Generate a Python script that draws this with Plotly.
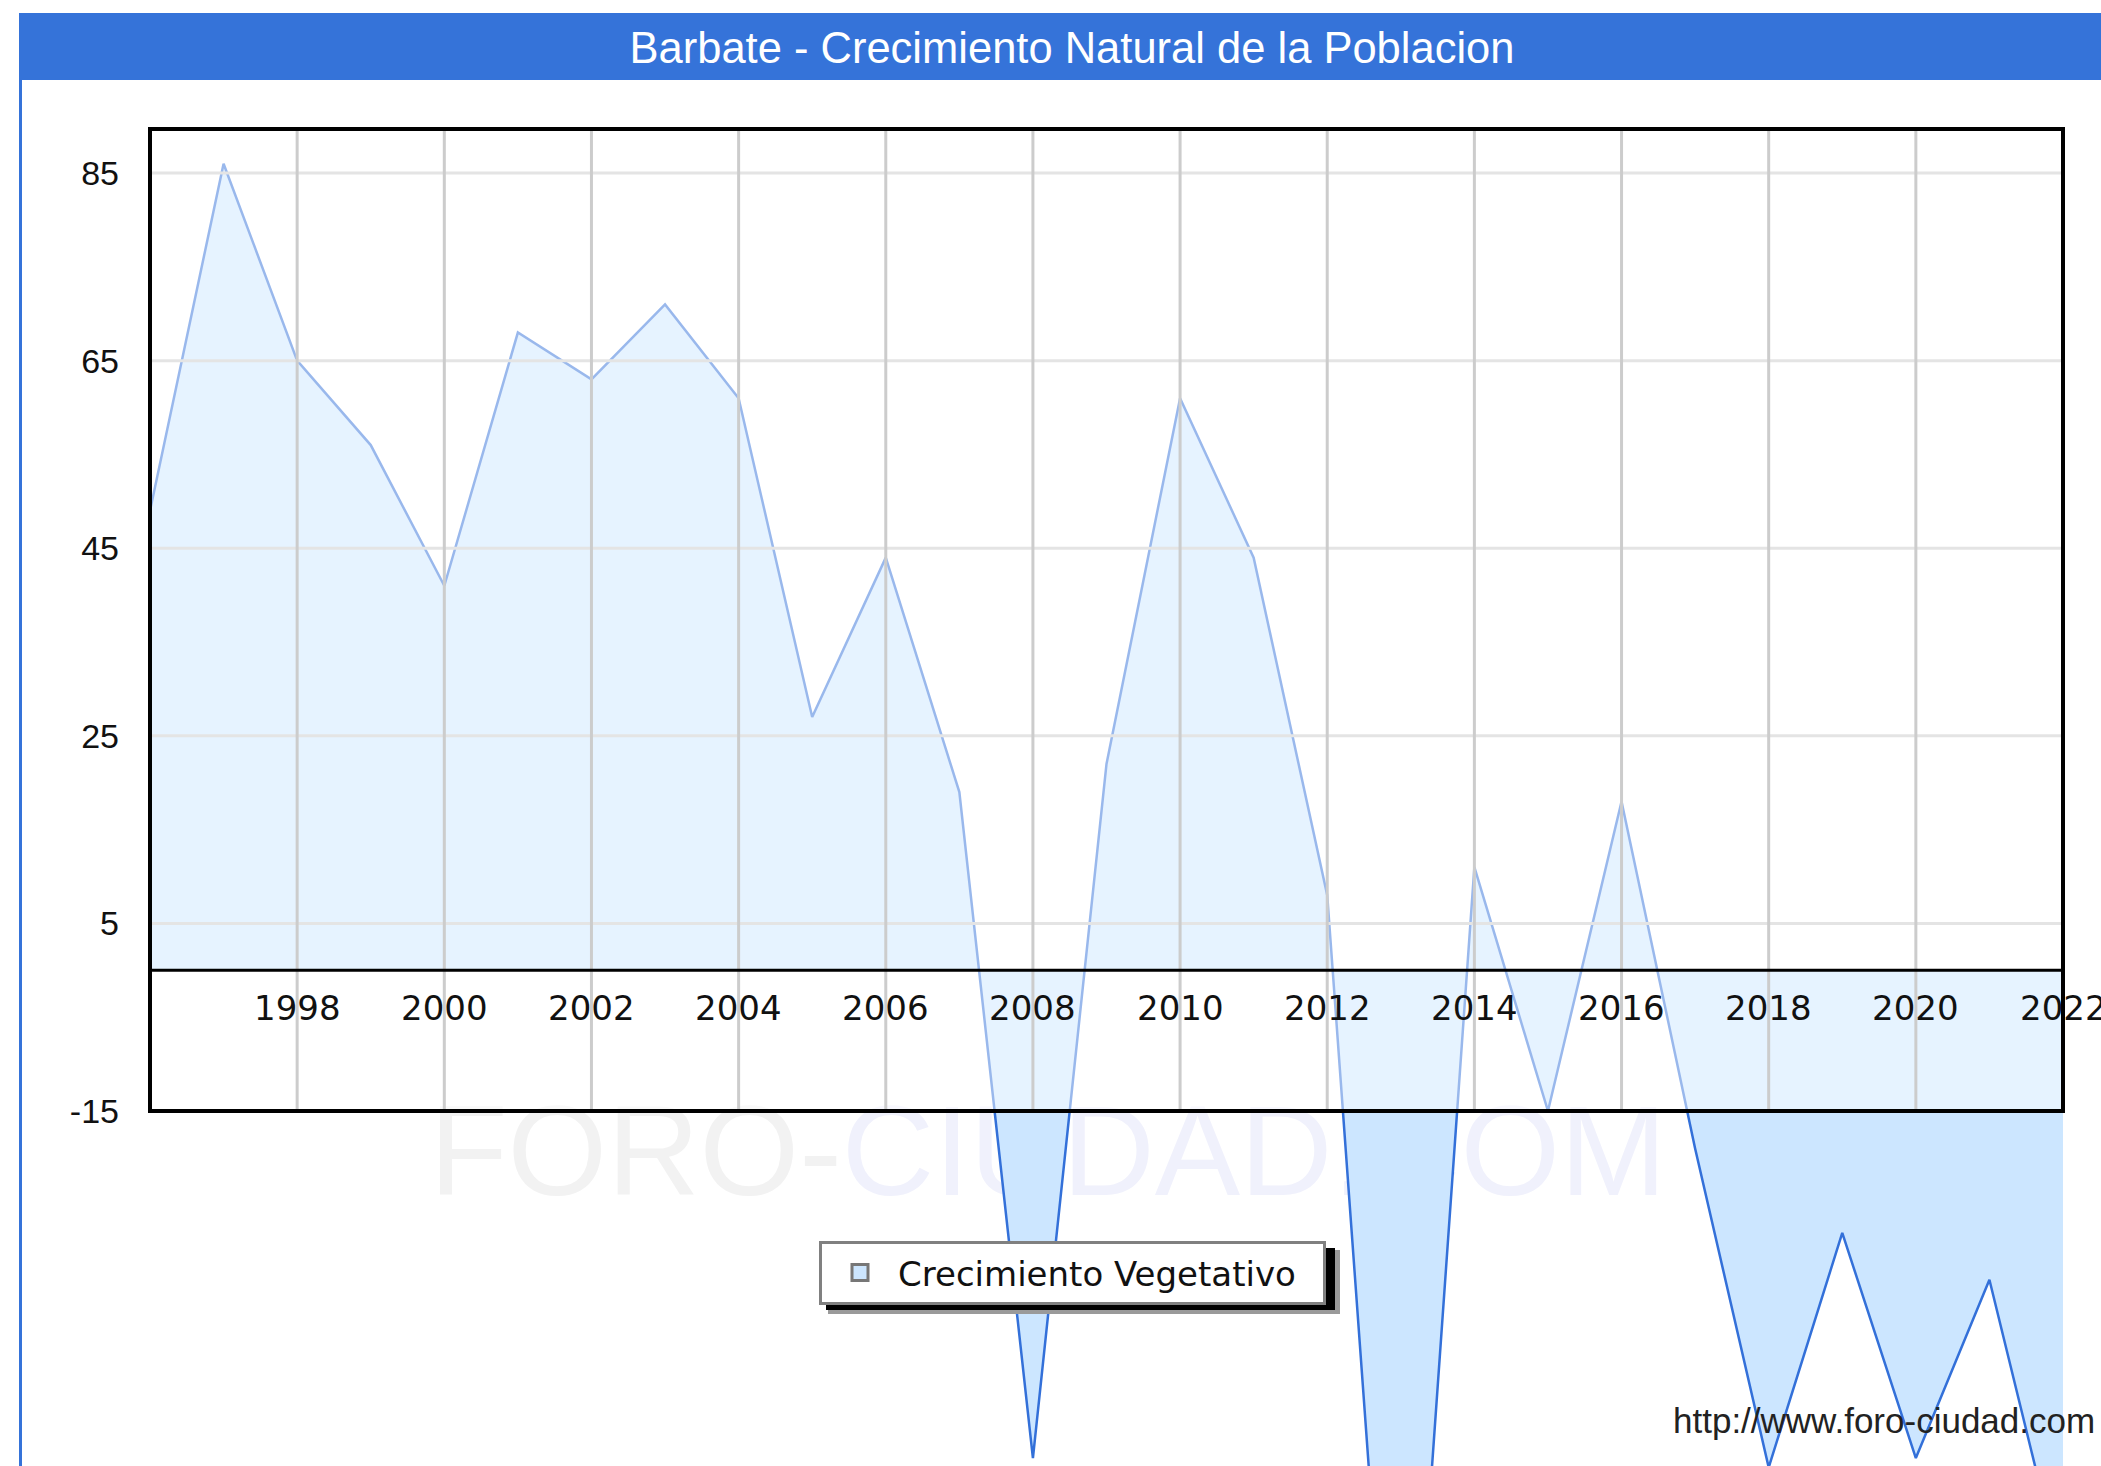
import plotly.graph_objects as go

# ---------------- data ----------------
years = list(range(1996, 2023))
crecimiento = [49, 86, 65, 56, 41, 68, 63, 71, 61, 27, 44, 19, -52, 22, 61, 44,
               8, -100, 11, -15, 18, -19, -53, -28, -52, -33, -65]
series_name = "Crecimiento Vegetativo"
title_text = "Barbate - Crecimiento Natural de la Poblacion"
x_tick_years = list(range(1998, 2023, 2))
x_tick_labels = [str(y) for y in x_tick_years]
y_tick_vals = [85, 65, 45, 25, 5, -15]
y_tick_labels = [str(v) for v in y_tick_vals]

# ---------------- layout geometry ----------------
W, H = 2101, 1466
PL, PR, PT, PB = 150, 2063, 129, 1466          # plot area in pixels
X_MIN, X_MAX = 1996, 2022
Y_TOP, Y_BOT = 89.7, -52.85                     # value range covering plot area
BOX_BOTTOM = -15


def pxx(p):
    return (p - PL) / (PR - PL)


def pxy(p):
    return (PB - p) / (PB - PT)


def valy(v):
    return (v - Y_BOT) / (Y_TOP - Y_BOT)


def px_to_xval(p):
    return X_MIN + (p - PL) / (PR - PL) * (X_MAX - X_MIN)


def px_to_yval(p):
    return Y_TOP - (p - PT) / (PB - PT) * (Y_TOP - Y_BOT)


BLUE = "#3573d9"
LINE_DARK = "#3370d9"
FILL_DARK = "#cce6ff"

fig = go.Figure()

# watermark (below the area)
fig.add_trace(go.Scatter(
    x=[px_to_xval(1048)], y=[px_to_yval(1163)], mode="text",
    text=["<span style='color:#f2f2f2'>FORO-</span><span style='color:#f0f1fc'>CIUDAD.COM</span>"],
    textfont=dict(family="Liberation Sans", size=128),
    hoverinfo="skip", showlegend=False, cliponaxis=False))

# main area series
fig.add_trace(go.Scatter(
    x=years, y=crecimiento, mode="lines", fill="tozeroy",
    fillcolor=FILL_DARK, line=dict(color=LINE_DARK, width=2.5),
    name=series_name, showlegend=False))

# legend entry
fig.add_trace(go.Scatter(
    x=[None], y=[None], mode="markers", name=series_name + "\u00a0\u00a0",
    marker=dict(symbol="square", size=16, color=FILL_DARK,
                line=dict(color="#777777", width=3))))

shapes = []
# title bar and left frame
shapes.append(dict(type="rect", xref="paper", yref="paper",
                   x0=pxx(19), x1=pxx(2110), y0=pxy(13), y1=pxy(80),
                   fillcolor=BLUE, line=dict(width=0), layer="above"))
shapes.append(dict(type="line", xref="paper", yref="paper",
                   x0=pxx(20.5), x1=pxx(20.5), y0=pxy(80), y1=pxy(1470),
                   line=dict(color=BLUE, width=3), layer="above"))
# translucent veil over the box
shapes.append(dict(type="rect", xref="paper", yref="paper",
                   x0=0, x1=1, y0=valy(BOX_BOTTOM), y1=1,
                   fillcolor="rgba(255,255,255,0.5)", line=dict(width=0), layer="above"))
# horizontal grid lines
for v in y_tick_vals[:-1]:
    shapes.append(dict(type="line", xref="paper", yref="y", x0=0, x1=1, y0=v, y1=v,
                       line=dict(color="#e4e4e4", width=3), layer="above"))
# vertical grid lines
for yr in x_tick_years[:-1]:
    shapes.append(dict(type="line", xref="x", yref="paper", x0=yr, x1=yr,
                       y0=valy(BOX_BOTTOM), y1=1,
                       line=dict(color="#cccccc", width=3), layer="above"))
# zero axis line
shapes.append(dict(type="line", xref="paper", yref="y", x0=0, x1=1, y0=0, y1=0,
                   line=dict(color="black", width=3), layer="above"))
# box
shapes.append(dict(type="rect", xref="paper", yref="paper", x0=0, x1=1,
                   y0=valy(BOX_BOTTOM), y1=1, line=dict(color="black", width=4),
                   fillcolor="rgba(0,0,0,0)", layer="above"))
# legend shadow
shapes.append(dict(type="rect", xref="paper", yref="paper",
                   x0=pxx(828), x1=pxx(1340), y0=pxy(1250), y1=pxy(1314),
                   fillcolor="#9a9a9a", line=dict(width=0), layer="above"))
shapes.append(dict(type="rect", xref="paper", yref="paper",
                   x0=pxx(826), x1=pxx(1335), y0=pxy(1248), y1=pxy(1310),
                   fillcolor="#000000", line=dict(width=0), layer="above"))

annotations = []
for yr, lab in zip(x_tick_years, x_tick_labels):
    annotations.append(dict(x=yr, y=0, xref="x", yref="y", text=lab, showarrow=False,
                            yshift=-38, xanchor="center", yanchor="middle",
                            font=dict(family="DejaVu Sans", size=34, color="#111111")))
annotations.append(dict(x=pxx(2097), y=pxy(1420), xref="paper", yref="paper",
                        text="http://www.foro-ciudad.com", showarrow=False,
                        xanchor="right", yanchor="middle",
                        font=dict(family="Liberation Sans", size=35, color="#222222")))

fig.update_layout(
    width=W, height=H,
    margin=dict(l=PL, r=W - PR, t=PT, b=H - PB, pad=0),
    paper_bgcolor="white", plot_bgcolor="rgba(0,0,0,0)",
    title=dict(text=title_text, x=1072 / W, xref="container", xanchor="center",
               y=1 - 48 / H, yref="container", yanchor="middle",
               font=dict(family="Liberation Sans", size=43.5, color="white")),
    xaxis=dict(range=[X_MIN, X_MAX], showgrid=False, zeroline=False, showline=False,
               showticklabels=False, ticks="", fixedrange=True),
    yaxis=dict(range=[Y_BOT, Y_TOP], showgrid=False, zeroline=False, showline=False,
               tickmode="array", tickvals=y_tick_vals, ticktext=y_tick_labels,
               ticks="", ticklabelstandoff=30, fixedrange=True,
               tickfont=dict(family="Liberation Sans", size=34, color="#111111")),
    legend=dict(x=pxx(819), y=pxy(1241), xanchor="left", yanchor="top",
                bgcolor="white", bordercolor="#808080", borderwidth=3,
                font=dict(family="DejaVu Sans", size=34, color="#111111"),
                itemwidth=66),
    shapes=shapes, annotations=annotations,
    showlegend=True,
)

fig.write_html("out.html", config={"displayModeBar": False},
               post_script="document.body.style.margin='0';")
